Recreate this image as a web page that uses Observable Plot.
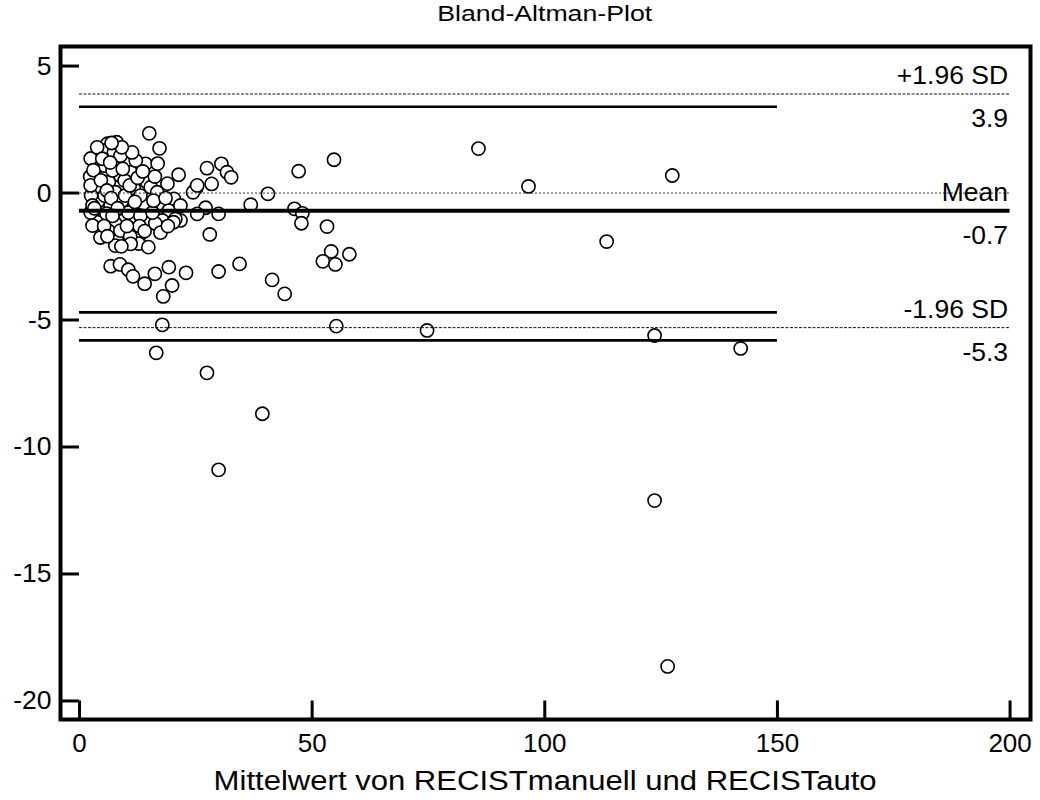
<!DOCTYPE html>
<html><head><meta charset="utf-8">
<script src="https://cdn.jsdelivr.net/npm/d3@7"></script>
<script src="https://cdn.jsdelivr.net/npm/@observablehq/plot@0.6"></script>
<style>
body{margin:0;background:#fff;font-family:"Liberation Sans",Arial,sans-serif;color:#000;}
.cap{position:relative;text-align:center;padding-left:50px;width:990px;white-space:nowrap;}
.cap span{display:inline-block;transform-origin:50% 50%;}
#title{height:30px;line-height:28px;font-size:22px;}
#xlabel{height:38px;line-height:38px;font-size:27px;}
#chart svg{display:block;}
</style></head><body>
<div id="title" class="cap"><span>Bland-Altman-Plot</span></div>
<div id="chart"></div>
<div id="xlabel" class="cap"><span>Mittelwert von RECISTmanuell und RECISTauto</span></div>
<script>
// Mean of the two methods (x) and their difference (y)
const meanVals = [85.75,96.5,127.4,113.3,123.6,142.1,123.6,126.4,74.7,55.2,17.8,16.5,27.4,39.3,29.9,54.7,47.1,40.5,36.8,46.2,47.9,47.7,53.2,54.1,52.3,55.0,58.0,41.4,44.1,34.4,29.9,22.9,28.0,30.5,31.7,32.6,27.4,28.4,25.1,24.4,27.1,25.3,29.9,21.7,18.0,6.7,8.7,10.5,11.5,14.0,16.2,19.2,19.9,15.0,17.2,21.3,14.2,8.0,6.0,5.2,3.8,3.4,3.7,4.1,7.4,9.9,11.0,8.7,6.3,7.7,11.7,14.5,15.3,16.7,20.3,17.8,19.2,4.5,9.5,14.5,17.8,20.6,11.7,6.7,13.8,3.8,7.7,6.2,8.1,13.1,12.7,14.8,16.3,20.2,7.7,25.3,2.4,2.3,2.5,2.4,2.8,2.4,3.8,8.8,5.4,7.1,9.7,5.4,9.2,13.1,10.5,13.1,5.8,8.8,10.9,4.5,17.4,15.7,18.9,21.7,16.8,12.1,2.8,3.0,4.6,5.9,6.8,8.2,9.8,10.8,12.5,4.9,6.6,9.3,11.9,12.9,10.2,7.1,5.3,3.2,15.9,18.5,16.2,13.6,11.3,9.1,6.9,14.0,19.0,11.0,9.0,6.0];
const diffVals = [1.75,0.26,0.69,-1.91,-5.61,-6.12,-12.11,-18.64,-5.41,-5.24,-5.19,-6.29,-7.08,-8.69,-10.9,1.31,0.86,-0.03,-0.46,-0.62,-0.80,-1.19,-1.32,-2.30,-2.69,-2.81,-2.41,-3.42,-3.97,-2.79,-3.09,-3.14,-1.63,1.15,0.82,0.62,0.98,0.36,0.20,0.03,-0.58,-0.82,-0.82,-1.08,-4.07,-2.88,-2.81,-3.02,-3.28,-3.57,-3.18,-2.92,-3.64,2.35,1.76,0.72,1.15,2.0,1.94,1.67,1.02,0.62,0.23,-0.30,1.61,1.21,0.82,0.69,0.43,0.03,0.17,0.43,0.23,0.03,-0.23,-0.62,-0.69,-1.08,-1.08,-1.08,-1.08,-1.02,-0.56,-0.49,-0.43,-1.15,-1.20,-1.48,-1.90,-1.61,-1.99,-2.13,-1.20,-1.15,-2.07,0.30,1.36,0.65,-0.10,-0.77,-0.49,0.30,1.80,1.47,1.08,0.89,0.49,-0.10,-0.30,-0.10,-0.77,-0.89,-0.81,-1.48,-1.71,-1.75,-1.56,-0.77,0.37,-0.49,1.16,1.28,-1.28,0.9,0.5,0.1,-0.2,-0.6,-0.1,0.3,0.6,1.35,1.2,0.95,-0.35,-1.3,-1.3,-0.9,-1.3,-0.6,-0.3,-0.2,0.65,0.85,1.6,1.8,1.97,-1.5,-1.3,-2.0,-2.1,-1.7];

const xTicks = [0, 50, 100, 150, 200];
const yTicks = [5, 0, -5, -10, -15, -20];
const sdValues = [3.9, -5.3];
const meanValue = -0.7;
const limitValues = [3.9, -0.7, -5.3];
const limitNames = ["+1.96 SD", "Mean", "-1.96 SD"];
const limitLabels = ["3.9", "-0.7", "-5.3"];
const ciValues = [3.4, -4.7, -5.8];
const equalityValue = 0;

const xDomain = [-4.08, 204.39];
const yDomain = [-20.73, 5.77];

const points = meanVals.map((m, i) => ({m, d: diffVals[i]}));
const labels = limitValues.map((v, i) => ({v, name: limitNames[i], lab: limitLabels[i]}));
const fmt = d => String(d);

const chart = Plot.plot({
  width: 1040,
  height: 732,
  marginLeft: 60,
  marginRight: 10,
  marginTop: 16,
  marginBottom: 43,
  style: {fontFamily: "'Liberation Sans', Arial, sans-serif", fontSize: "26px", color: "#000", background: "#fff"},
  x: {domain: xDomain},
  y: {domain: yDomain},
  marks: [
    Plot.dot(points, {x: "m", y: "d", r: 6.6, fill: "white", stroke: "black", strokeWidth: 1.6}),
    Plot.ruleY([equalityValue], {x1: 0, x2: 200, stroke: "#333", strokeWidth: 1, strokeDasharray: "2,2"}),
    Plot.ruleY(sdValues, {x1: 0, x2: 200, stroke: "#111", strokeWidth: 1, strokeDasharray: "3,1.5"}),
    Plot.ruleY([meanValue], {x1: 0, x2: 200, stroke: "black", strokeWidth: 4}),
    Plot.ruleY(ciValues, {x1: 0, x2: 150, stroke: "black", strokeWidth: 2.6}),
    Plot.text(labels, {x: 200, y: "v", text: "name", textAnchor: "end", dx: -2, dy: -18, fontSize: 26.5}),
    Plot.text(labels, {x: 200, y: "v", text: "lab", textAnchor: "end", dx: -2, dy: 25, fontSize: 26.5}),
    Plot.ruleY(yTicks, {x1: xDomain[0], x2: 0, stroke: "black", strokeWidth: 3}),
    Plot.ruleX(xTicks, {y1: yDomain[0], y2: -20, stroke: "black", strokeWidth: 3}),
    Plot.axisY({ticks: yTicks, tickFormat: fmt, tickSize: 0, tickPadding: 9, fontSize: 26.5, label: null}),
    Plot.axisX({ticks: xTicks, tickFormat: fmt, tickSize: 0, tickPadding: 14, fontSize: 26, label: null}),
    Plot.frame({stroke: "black", strokeWidth: 4})
  ]
});
document.getElementById("chart").appendChild(chart);

// widen the HTML captions to the reference's glyph width
function stretch(id, target) {
  const s = document.querySelector("#" + id + " span");
  const w = s.getBoundingClientRect().width;
  if (w > 0) s.style.transform = `scaleX(${target / w})`;
}
stretch("title", 215);
stretch("xlabel", 663);
</script>
</body></html>
